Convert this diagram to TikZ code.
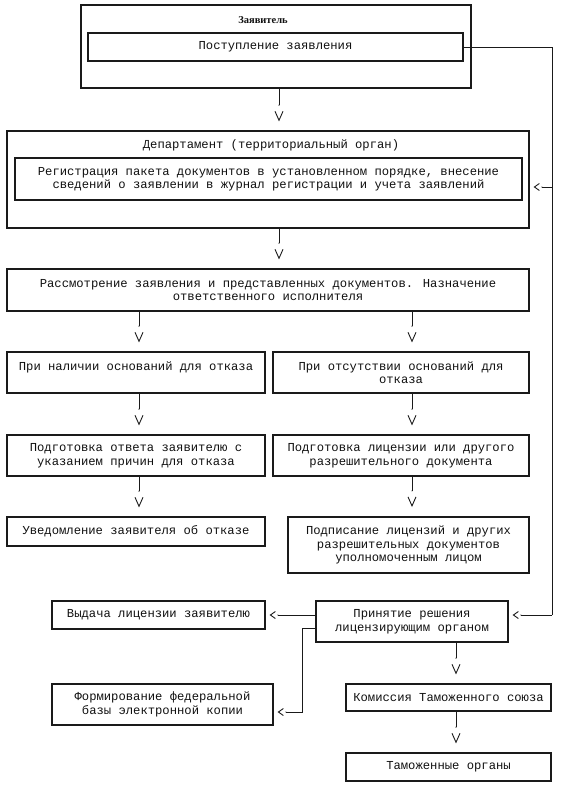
\documentclass[tikz,border=0pt]{standalone}
\usepackage{fontspec}
\setmainfont{Liberation Mono}
\newfontfamily\headfont{Liberation Serif}
\usetikzlibrary{arrows.meta, calc}
\definecolor{FlowLine}{HTML}{1A1A1A}
\definecolor{FlowText}{HTML}{111111}

\begin{document}
\begin{tikzpicture}[
    x=1pt, y=-1pt,
    font=\fontsize{12.2}{13.5}\selectfont,
    % Box Styles
    box/.style={draw=FlowLine, line width=1.2pt, inner sep=0pt, align=center, text=FlowText},
    heavybox/.style={box, line width=2pt},
    title/.style={font=\headfont\bfseries\fontsize{10.5}{12}\selectfont, text=FlowText},
    % Connector Styles
    line/.style={FlowLine, line width=0.9pt},
    arrdown/.style={line, -{Butt Cap[sep=5pt] . Straight Barb[length=9pt, width=8pt]}, shorten >=9pt},
    arrleft/.style={line, -{Butt Cap[sep=1.5pt] . Straight Barb[length=5pt, width=7pt]}, shorten >=4pt}
]
    \fill[white] (0,0) rectangle (561,786);
    \useasboundingbox (0,0) rectangle (561,786);

    % ==========================================
    % APPLICANT & DEPARTMENT
    % ==========================================
    \node[heavybox, minimum width=390, minimum height=83] (zayav) at (276,46.5) {};
    \node[title] (zayavtitle) at (263,20) {Заявитель};
    \node[box, minimum width=375, minimum height=28] (post) at (275.5,47) {Поступление заявления};

    \node[box, minimum width=522, minimum height=97] (dept) at (268,179.5) {};
    \node[text=FlowText] (depttitle) at (271,145) {Департамент (территориальный орган)};
    \node[heavybox, minimum width=507, minimum height=42] (reg) at (268.5,179)
        {Регистрация пакета документов в установленном порядке, внесение\\сведений о заявлении в журнал регистрации и учета заявлений};

    \node[box, minimum width=522, minimum height=42] (review) at (268,290)
        {Рассмотрение заявления и представленных документов. Назначение\\ответственного исполнителя};

    % ==========================================
    % TWO BRANCHES
    % ==========================================
    \node[box, minimum width=258, minimum height=41] (refuse) at (136,372.5)
        {При наличии оснований для отказа\\\phantom{x}};
    \node[box, minimum width=256, minimum height=41] (grant) at (401,372.5)
        {При отсутствии оснований для\\отказа};

    \node[box, minimum width=258, minimum height=41] (answer) at (136,455.5)
        {Подготовка ответа заявителю с\\указанием причин для отказа};
    \node[box, minimum width=256, minimum height=41] (prep) at (401,455.5)
        {Подготовка лицензии или другого\\разрешительного документа};

    \node[box, minimum width=258, minimum height=29] (notify) at (136,531.5)
        {Уведомление заявителя об отказе};
    \node[heavybox, minimum width=241, minimum height=56] (sign) at (408.5,545)
        {Подписание лицензий и других\\разрешительных документов\\уполномоченным лицом};

    % ==========================================
    % DECISION
    % ==========================================
    \node[box, minimum width=213, minimum height=28] (issue) at (158.5,615)
        {Выдача лицензии заявителю};
    \node[box, minimum width=192, minimum height=41] (decision) at (412,621.5)
        {Принятие решения\\лицензирующим органом};
    \node[box, minimum width=221, minimum height=41] (base) at (162.5,704.5)
        {Формирование федеральной\\базы электронной копии};
    \node[box, minimum width=205, minimum height=27] (commission) at (448.5,697.5)
        {Комиссия Таможенного союза};
    \node[box, minimum width=205, minimum height=28] (customs) at (448.5,767)
        {Таможенные органы};

    % ==========================================
    % CONNECTORS
    % ==========================================
    \draw[arrdown] ([xshift=3pt]zayav.south) -- ([xshift=3pt]zayav.south |- dept.north);
    \draw[arrdown] ([xshift=11pt]dept.south) -- ([xshift=11pt]review.north);

    \draw[arrdown] ([xshift=3pt]refuse.north |- review.south) -- ([xshift=3pt]refuse.north);
    \draw[arrdown] ([xshift=3pt]refuse.south) -- ([xshift=3pt]answer.north);
    \draw[arrdown] ([xshift=3pt]answer.south) -- ([xshift=3pt]notify.north);

    \draw[arrdown] ([xshift=11pt]grant.north |- review.south) -- ([xshift=11pt]grant.north);
    \draw[arrdown] ([xshift=11pt]grant.south) -- ([xshift=11pt]prep.north);
    \draw[arrdown] ([xshift=11pt]prep.south) -- ([xshift=11pt]prep.south |- sign.north);

    % Side rail from the application
    \coordinate (railend) at (552,615);
    \coordinate (raildept) at (552,187);
    \draw[line] (post.east) -| (railend);
    \draw[arrleft] (raildept) -- (raildept -| dept.east);
    \draw[arrleft] (railend) -- (railend -| decision.east);

    \draw[arrleft] (decision.west |- issue.east) -- (issue.east);
    \coordinate (elbow) at (302,712);
    \draw[arrleft] ([yshift=-6.5pt]decision.west) -| (elbow) -- (elbow -| base.east);

    \draw[arrdown] ([xshift=7.5pt]commission.north |- decision.south) -- ([xshift=7.5pt]commission.north);
    \draw[arrdown] ([xshift=7.5pt]commission.south) -- ([xshift=7.5pt]customs.north);

\end{tikzpicture}
\end{document}
